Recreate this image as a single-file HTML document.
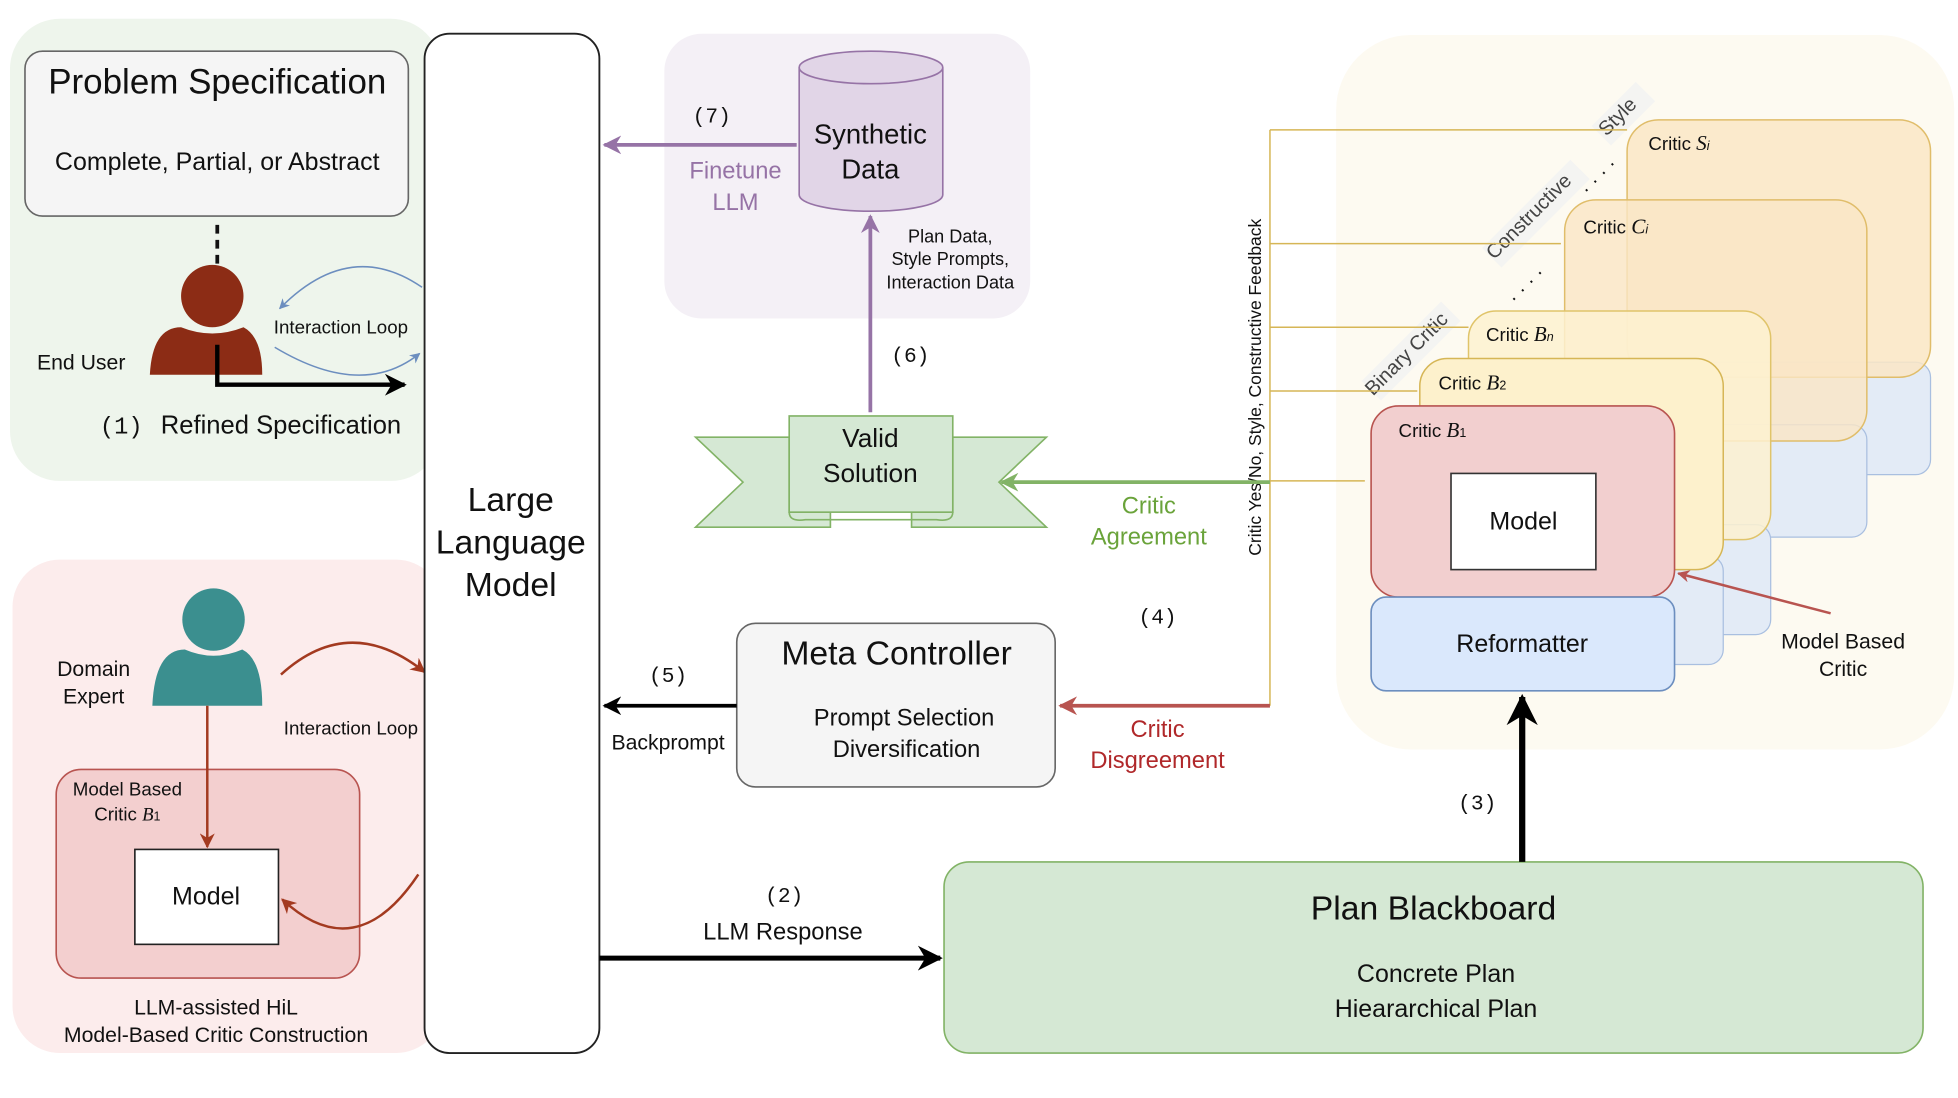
<!DOCTYPE html>
<html><head><meta charset="utf-8"><style>
html,body{margin:0;padding:0;background:#fff;}
svg{display:block;}
text{font-family:"Liberation Sans",Arial,sans-serif;fill:#111;}
.m{font-family:"Liberation Mono",monospace;}
</style></head><body>
<svg width="1958" height="1098" viewBox="0 0 1568 879" preserveAspectRatio="none" xmlns="http://www.w3.org/2000/svg">
<defs>
<marker id="ab" viewBox="0 0 10 10" refX="9" refY="5" markerWidth="5" markerHeight="5" orient="auto"><path d="M0,0 L10,5 L0,10 L3,5 z" fill="#000"/></marker>
<marker id="ap" viewBox="0 0 10 10" refX="9" refY="5" markerWidth="5" markerHeight="5" orient="auto"><path d="M0,0 L10,5 L0,10 L3,5 z" fill="#9673a6"/></marker>
<marker id="ag" viewBox="0 0 10 10" refX="9" refY="5" markerWidth="5" markerHeight="5" orient="auto"><path d="M0,0 L10,5 L0,10 L3,5 z" fill="#82b366"/></marker>
<marker id="ar" viewBox="0 0 10 10" refX="9" refY="5" markerWidth="5" markerHeight="5" orient="auto"><path d="M0,0 L10,5 L0,10 L3,5 z" fill="#b85450"/></marker>
<marker id="ar2" viewBox="0 0 10 10" refX="9" refY="5" markerWidth="6" markerHeight="6" orient="auto"><path d="M0,0 L10,5 L0,10 L3,5 z" fill="#a33a20"/></marker>
<marker id="abl" viewBox="0 0 10 10" refX="9" refY="5" markerWidth="7" markerHeight="7" orient="auto"><path d="M0,0 L10,5 L0,10 L3,5 z" fill="#6c8ebf"/></marker>
</defs>

<rect x="8" y="15" width="345" height="370" rx="40" fill="#eef5ec"/>
<rect x="20" y="41" width="307" height="132" rx="14" fill="#f5f5f5" stroke="#666" stroke-width="1.3"/>
<text x="174" y="75" font-size="28" text-anchor="middle">Problem Specification</text>
<text x="174" y="136" font-size="20" text-anchor="middle">Complete, Partial, or Abstract</text>
<line x1="174" y1="180" x2="174" y2="214" stroke="#111" stroke-width="3" stroke-dasharray="7,5"/>
<circle cx="170" cy="237" r="25" fill="#8c2c15"/>
<path d="M120,300 Q122,262 145,262 Q170,272 195,262 Q210,270 210,300 Z" fill="#8c2c15"/>
<text x="65" y="296" font-size="17" text-anchor="middle">End User</text>
<text x="273" y="267" font-size="15" text-anchor="middle">Interaction Loop</text>
<path d="M338,230 Q280,190 224,247" fill="none" stroke="#6c8ebf" stroke-width="1.2" marker-end="url(#abl)"/>
<path d="M220,278 Q290,320 336,283" fill="none" stroke="#6c8ebf" stroke-width="1.2" marker-end="url(#abl)"/>
<path d="M174,276 L174,308 L324,308" fill="none" stroke="#000" stroke-width="3.5" marker-end="url(#ab)"/>
<text x="80" y="347" font-size="19" class="m">(1)</text>
<text x="225" y="347" font-size="20.5" text-anchor="middle">Refined Specification</text>

<rect x="10" y="448" width="345" height="395" rx="38" fill="#fcecec"/>
<circle cx="171" cy="496" r="25" fill="#3b8f8f"/>
<path d="M122,565 Q124,520 148,520 Q171,530 194,520 Q210,528 210,565 Z" fill="#3b8f8f"/>
<text x="75" y="541" font-size="17" text-anchor="middle">Domain</text>
<text x="75" y="563" font-size="17" text-anchor="middle">Expert</text>
<path d="M225,540 Q280,490 340,538" fill="none" stroke="#a33a20" stroke-width="2" marker-end="url(#ar2)"/>
<text x="281" y="588" font-size="15" text-anchor="middle">Interaction Loop</text>
<rect x="45" y="616" width="243" height="167" rx="20" fill="#f3cfcf" stroke="#b85450" stroke-width="1.3"/>
<text x="102" y="637" font-size="15" text-anchor="middle">Model Based</text>
<text x="102" y="657" font-size="15" text-anchor="middle">Critic <tspan font-style="italic" font-family="Liberation Serif">B</tspan><tspan font-size="10">1</tspan></text>
<rect x="108" y="680" width="115" height="76" fill="#fff" stroke="#222" stroke-width="1.3"/>
<text x="165" y="724" font-size="20" text-anchor="middle">Model</text>
<line x1="166" y1="565" x2="166" y2="678" stroke="#a33a20" stroke-width="2" marker-end="url(#ar2)"/>
<path d="M335,700 Q285,775 226,720" fill="none" stroke="#a33a20" stroke-width="2" marker-end="url(#ar2)"/>
<text x="173" y="812" font-size="17" text-anchor="middle">LLM-assisted HiL</text>
<text x="173" y="834" font-size="17" text-anchor="middle">Model-Based Critic Construction</text>

<rect x="340" y="27" width="140" height="816" rx="20" fill="#fff" stroke="#222" stroke-width="1.5"/>
<text x="409" y="409" font-size="27" text-anchor="middle">Large</text>
<text x="409" y="443" font-size="27" text-anchor="middle">Language</text>
<text x="409" y="477" font-size="27" text-anchor="middle">Model</text>

<rect x="532" y="27" width="293" height="228" rx="30" fill="#f4f0f6"/>
<path d="M640,54 L640,156 A57,13 0 0 0 755,156 L755,54" fill="#e1d5e7" stroke="#9673a6" stroke-width="1.3"/>
<ellipse cx="697.5" cy="54" rx="57.5" ry="13" fill="#e1d5e7" stroke="#9673a6" stroke-width="1.3"/>
<text x="697" y="115" font-size="22" text-anchor="middle">Synthetic</text>
<text x="697" y="143" font-size="22" text-anchor="middle">Data</text>
<line x1="638" y1="116" x2="484" y2="116" stroke="#9673a6" stroke-width="3" marker-end="url(#ap)"/>
<text x="570" y="98" font-size="17" text-anchor="middle" class="m">(7)</text>
<text x="589" y="143" font-size="19" text-anchor="middle" style="fill:#9673a6">Finetune</text>
<text x="589" y="168" font-size="19" text-anchor="middle" style="fill:#9673a6">LLM</text>
<text x="761" y="194" font-size="14.5" text-anchor="middle">Plan Data,</text>
<text x="761" y="212" font-size="14.5" text-anchor="middle">Style Prompts,</text>
<text x="761" y="231" font-size="14.5" text-anchor="middle">Interaction Data</text>
<line x1="697" y1="330" x2="697" y2="173" stroke="#9673a6" stroke-width="3" marker-end="url(#ap)"/>
<text x="729" y="290" font-size="17" text-anchor="middle" class="m">(6)</text>

<path d="M557,350 L632,350 L632,410 L665,410 L665,422 L557,422 L595,386 Z" fill="#d5e8d4" stroke="#82b366" stroke-width="1.3"/>
<path d="M838,350 L763,350 L763,410 L730,410 L730,422 L838,422 L800,386 Z" fill="#d5e8d4" stroke="#82b366" stroke-width="1.3"/>
<rect x="632" y="333" width="131" height="77" fill="#d5e8d4" stroke="#82b366" stroke-width="1.3"/>
<path d="M632,410 Q632,418 645,416 L750,416 Q763,418 763,410" fill="none" stroke="#82b366" stroke-width="1.3"/>
<text x="697" y="358" font-size="21" text-anchor="middle">Valid</text>
<text x="697" y="386" font-size="21" text-anchor="middle">Solution</text>

<rect x="1070" y="28" width="495" height="572" rx="60" fill="#fdfaf1"/>
<rect x="1303" y="290" width="243" height="90" rx="12" fill="#e3ebf6" stroke="#a9bfe0" stroke-width="1"/>
<rect x="1253" y="340" width="242" height="90" rx="12" fill="#e3ebf6" stroke="#a9bfe0" stroke-width="1"/>
<rect x="1176" y="420" width="242" height="88" rx="12" fill="#e3ebf6" stroke="#a9bfe0" stroke-width="1"/>
<rect x="1137" y="445" width="243" height="87" rx="12" fill="#e3ebf6" stroke="#a9bfe0" stroke-width="1"/>
<rect x="1303" y="96" width="243" height="206" rx="25" fill="#fae6c6" fill-opacity="0.85" stroke="#e0bd6a" stroke-width="1.2"/>
<text x="1320" y="120" font-size="15">Critic <tspan font-style="italic" font-family="Liberation Serif" font-size="17">S</tspan><tspan font-size="10" font-style="italic">i</tspan></text>
<rect x="1253" y="160" width="242" height="193" rx="25" fill="#fae6c6" fill-opacity="0.8" stroke="#e0bd6a" stroke-width="1.2"/>
<text x="1268" y="187" font-size="15">Critic <tspan font-style="italic" font-family="Liberation Serif" font-size="17">C</tspan><tspan font-size="10" font-style="italic">i</tspan></text>
<rect x="1176" y="249" width="242" height="183" rx="22" fill="#fdf1d0" fill-opacity="0.85" stroke="#e0c46a" stroke-width="1.2"/>
<text x="1190" y="273" font-size="15">Critic <tspan font-style="italic" font-family="Liberation Serif" font-size="17">B</tspan><tspan font-size="10" font-style="italic">n</tspan></text>
<rect x="1137" y="287" width="243" height="169" rx="22" fill="#fdf1cc" stroke="#d6b656" stroke-width="1.2"/>
<text x="1152" y="312" font-size="15">Critic <tspan font-style="italic" font-family="Liberation Serif" font-size="17">B</tspan><tspan font-size="10">2</tspan></text>
<rect x="1098" y="325" width="243" height="153" rx="22" fill="#f2cfcf" stroke="#b85450" stroke-width="1.3"/>
<text x="1120" y="350" font-size="15">Critic <tspan font-style="italic" font-family="Liberation Serif" font-size="17">B</tspan><tspan font-size="10">1</tspan></text>
<rect x="1162" y="379" width="116" height="77" fill="#fff" stroke="#333" stroke-width="1.3"/>
<text x="1220" y="424" font-size="20" text-anchor="middle">Model</text>
<rect x="1098" y="478" width="243" height="75" rx="12" fill="#dae8fc" stroke="#6c8ebf" stroke-width="1.3"/>
<text x="1219" y="522" font-size="20" text-anchor="middle">Reformatter</text>
<rect x="1085" y="270" width="90" height="22" fill="#f4f4f2" transform="rotate(-45 1130 281)"/>
<text x="1130" y="287" font-size="16" text-anchor="middle" transform="rotate(-45 1130 287)" style="fill:#444">Binary Critic</text>
<rect x="1180" y="160" width="100" height="22" fill="#f4f4f2" transform="rotate(-45 1230 171)"/>
<text x="1228" y="177" font-size="16" text-anchor="middle" transform="rotate(-45 1228 177)" style="fill:#444">Constructive</text>
<rect x="1275" y="80" width="50" height="22" fill="#f4f4f2" transform="rotate(-45 1300 91)"/>
<text x="1299" y="97" font-size="16" text-anchor="middle" transform="rotate(-45 1299 97)" style="fill:#444">Style</text>
<text x="1226" y="232" font-size="16" text-anchor="middle" transform="rotate(-45 1226 232)">· · · ·</text>
<text x="1284" y="145" font-size="16" text-anchor="middle" transform="rotate(-45 1284 145)">· · · ·</text>
<line x1="1466" y1="491" x2="1344" y2="459" stroke="#b85450" stroke-width="2" marker-end="url(#ar)"/>
<text x="1476" y="519" font-size="17" text-anchor="middle">Model Based</text>
<text x="1476" y="541" font-size="17" text-anchor="middle">Critic</text>

<g stroke="#d6b656" stroke-width="1.2" fill="none">
<line x1="1017" y1="104" x2="1017" y2="565"/>
<line x1="1017" y1="104" x2="1303" y2="104"/>
<line x1="1017" y1="195" x2="1250" y2="195"/>
<line x1="1017" y1="262" x2="1176" y2="262"/>
<line x1="1017" y1="313" x2="1135" y2="313"/>
<line x1="1017" y1="385" x2="1093" y2="385"/>
</g>
<text x="1010" y="310" font-size="14" text-anchor="middle" transform="rotate(-90 1010 310)">Critic Yes/No, Style, Constructive Feedback</text>
<line x1="1017" y1="386" x2="802" y2="386" stroke="#82b366" stroke-width="3" marker-end="url(#ag)"/>
<text x="920" y="411" font-size="19" text-anchor="middle" style="fill:#6aa33a">Critic</text>
<text x="920" y="436" font-size="19" text-anchor="middle" style="fill:#6aa33a">Agreement</text>
<text x="927" y="499" font-size="17" text-anchor="middle" class="m">(4)</text>
<line x1="1017" y1="565" x2="849" y2="565" stroke="#b85450" stroke-width="3" marker-end="url(#ar)"/>
<text x="927" y="590" font-size="19" text-anchor="middle" style="fill:#b0282a">Critic</text>
<text x="927" y="615" font-size="19" text-anchor="middle" style="fill:#b0282a">Disgreement</text>

<rect x="590" y="499" width="255" height="131" rx="15" fill="#f5f5f5" stroke="#666" stroke-width="1.3"/>
<text x="718" y="532" font-size="27" text-anchor="middle">Meta Controller</text>
<text x="724" y="581" font-size="19" text-anchor="middle">Prompt Selection</text>
<text x="726" y="606" font-size="19" text-anchor="middle">Diversification</text>
<line x1="590" y1="565" x2="484" y2="565" stroke="#000" stroke-width="3" marker-end="url(#ab)"/>
<text x="535" y="546" font-size="17" text-anchor="middle" class="m">(5)</text>
<text x="535" y="600" font-size="17" text-anchor="middle">Backprompt</text>

<rect x="756" y="690" width="784" height="153" rx="20" fill="#d5e8d4" stroke="#82b366" stroke-width="1.3"/>
<text x="1148" y="736" font-size="27" text-anchor="middle">Plan Blackboard</text>
<text x="1150" y="786" font-size="20" text-anchor="middle">Concrete Plan</text>
<text x="1150" y="814" font-size="20" text-anchor="middle">Hieararchical Plan</text>
<line x1="1219" y1="690" x2="1219" y2="558" stroke="#000" stroke-width="5" marker-end="url(#ab)"/>
<text x="1183" y="648" font-size="17" text-anchor="middle" class="m">(3)</text>
<line x1="480" y1="767" x2="753" y2="767" stroke="#000" stroke-width="4" marker-end="url(#ab)"/>
<text x="628" y="722" font-size="17" text-anchor="middle" class="m">(2)</text>
<text x="627" y="752" font-size="19" text-anchor="middle">LLM Response</text>
</svg>
</body></html>
